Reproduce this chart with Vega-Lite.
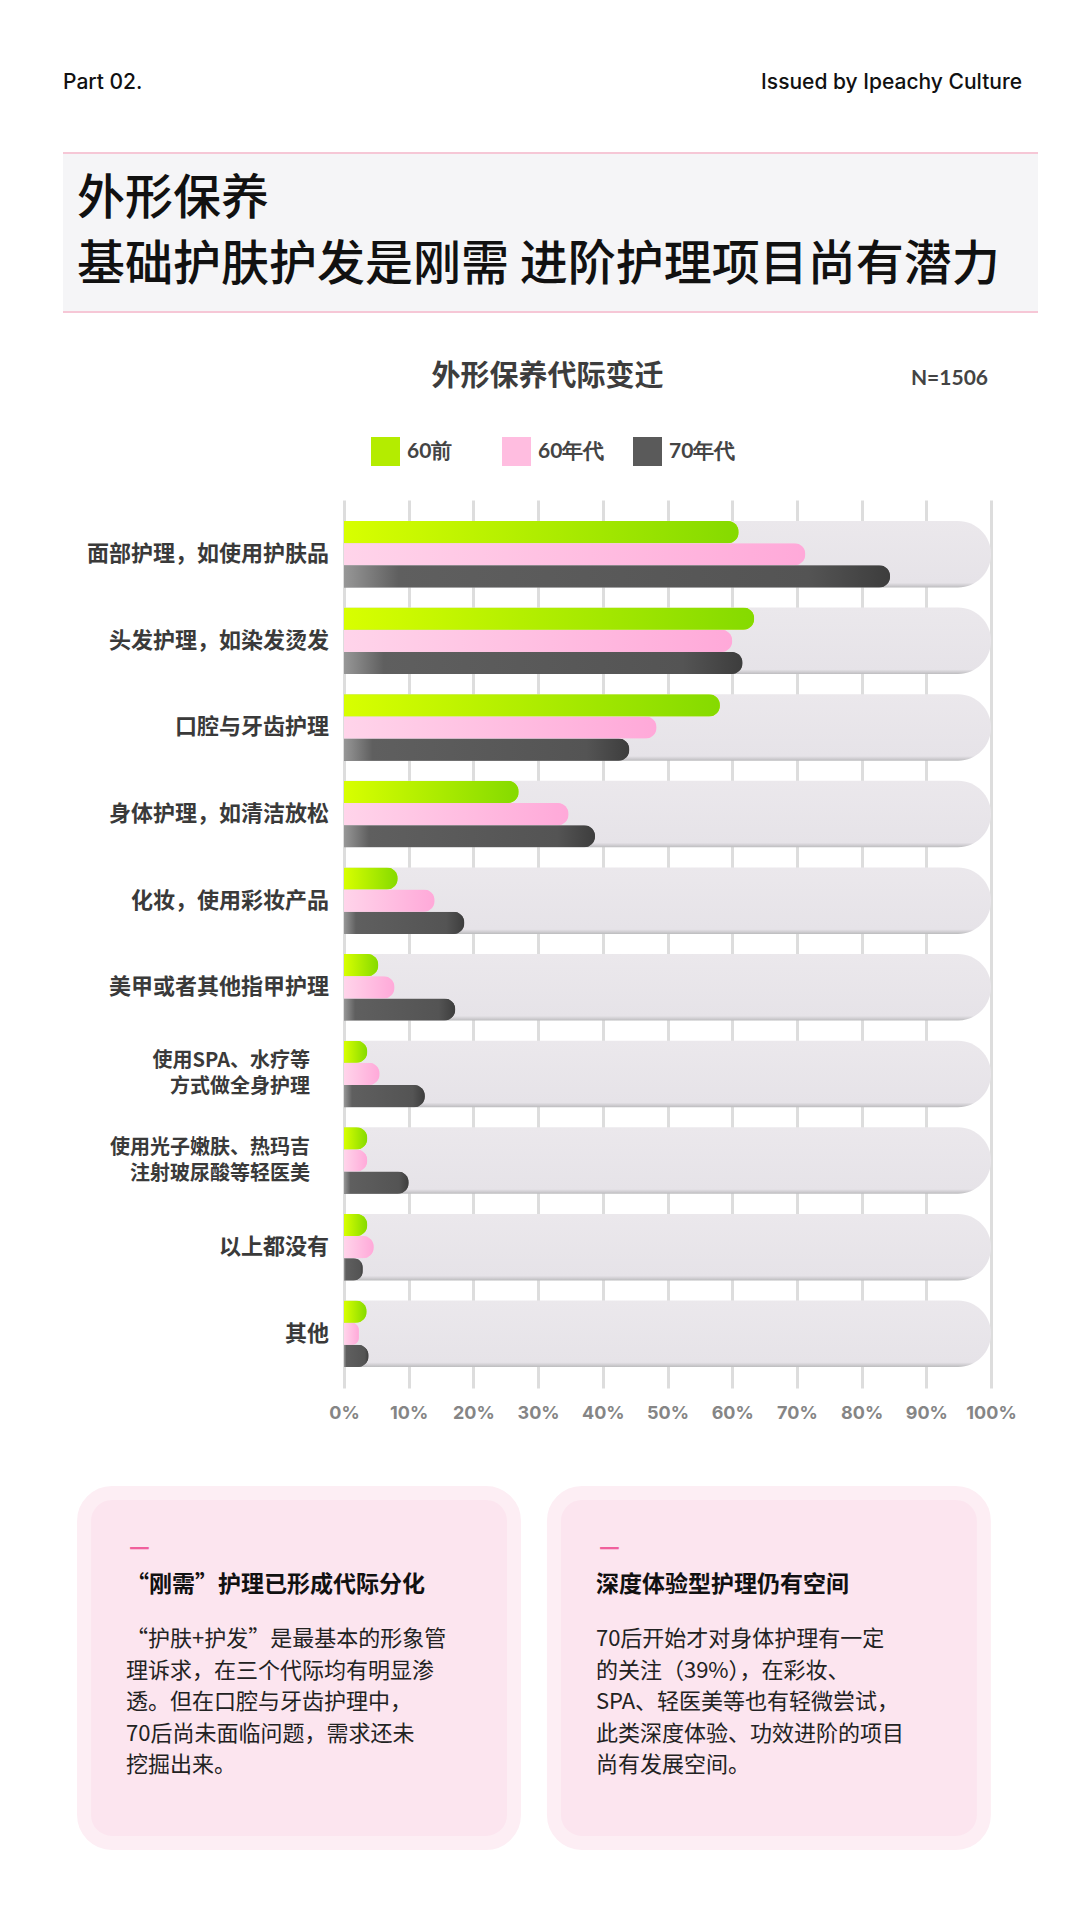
{
  "$schema": "https://vega.github.io/schema/vega-lite/v6.json",
  "background": "#ffffff",
  "padding": {"left": 62, "top": 0, "right": 43, "bottom": 0},
  "config": {
    "view": {"stroke": null},
    "font": "Noto Sans CJK SC"
  },
  "datasets": {
    "care": [
      {"item": "面部护理，如使用护肤品", "series": "60前", "value": 61.0},
      {"item": "面部护理，如使用护肤品", "series": "60年代", "value": 71.3},
      {"item": "面部护理，如使用护肤品", "series": "70年代", "value": 84.4},
      {"item": "头发护理，如染发烫发", "series": "60前", "value": 63.4},
      {"item": "头发护理，如染发烫发", "series": "60年代", "value": 60.0},
      {"item": "头发护理，如染发烫发", "series": "70年代", "value": 61.6},
      {"item": "口腔与牙齿护理", "series": "60前", "value": 58.1},
      {"item": "口腔与牙齿护理", "series": "60年代", "value": 48.3},
      {"item": "口腔与牙齿护理", "series": "70年代", "value": 44.1},
      {"item": "身体护理，如清洁放松", "series": "60前", "value": 27.0},
      {"item": "身体护理，如清洁放松", "series": "60年代", "value": 34.7},
      {"item": "身体护理，如清洁放松", "series": "70年代", "value": 38.8},
      {"item": "化妆，使用彩妆产品", "series": "60前", "value": 8.3},
      {"item": "化妆，使用彩妆产品", "series": "60年代", "value": 14.0},
      {"item": "化妆，使用彩妆产品", "series": "70年代", "value": 18.6},
      {"item": "美甲或者其他指甲护理", "series": "60前", "value": 5.3},
      {"item": "美甲或者其他指甲护理", "series": "60年代", "value": 7.8},
      {"item": "美甲或者其他指甲护理", "series": "70年代", "value": 17.2},
      {"item": "使用SPA、水疗等\n方式做全身护理", "series": "60前", "value": 3.6},
      {"item": "使用SPA、水疗等\n方式做全身护理", "series": "60年代", "value": 5.5},
      {"item": "使用SPA、水疗等\n方式做全身护理", "series": "70年代", "value": 12.5},
      {"item": "使用光子嫩肤、热玛吉\n注射玻尿酸等轻医美", "series": "60前", "value": 3.6},
      {"item": "使用光子嫩肤、热玛吉\n注射玻尿酸等轻医美", "series": "60年代", "value": 3.6},
      {"item": "使用光子嫩肤、热玛吉\n注射玻尿酸等轻医美", "series": "70年代", "value": 10.0},
      {"item": "以上都没有", "series": "60前", "value": 3.6},
      {"item": "以上都没有", "series": "60年代", "value": 4.6},
      {"item": "以上都没有", "series": "70年代", "value": 2.9},
      {"item": "其他", "series": "60前", "value": 3.5},
      {"item": "其他", "series": "60年代", "value": 2.3},
      {"item": "其他", "series": "70年代", "value": 3.8}
    ],
    "cards": [
      {
        "head": "“刚需”护理已形成代际分化",
        "body": "“护肤+护发”是最基本的形象管\n理诉求，在三个代际均有明显渗\n透。但在口腔与牙齿护理中，\n70后尚未面临问题，需求还未\n挖掘出来。"
      },
      {
        "head": "深度体验型护理仍有空间",
        "body": "70后开始才对身体护理有一定\n的关注（39%），在彩妆、\nSPA、轻医美等也有轻微尝试，\n此类深度体验、功效进阶的项目\n尚有发展空间。"
      }
    ]
  },
  "spacing": 0,
  "bounds": "flush",
  "vconcat": [
    {
      "width": 975,
      "height": 153,
      "data": {"values": [{"left": "Part 02.", "right": "Issued by Ipeachy Culture"}]},
      "layer": [
        {
          "mark": {"type": "text", "align": "left", "baseline": "middle", "dy": 6, "font": "Inter", "fontSize": 21, "fontWeight": 500, "color": "#111111"},
          "encoding": {"x": {"value": 0}, "text": {"field": "left"}}
        },
        {
          "mark": {"type": "text", "align": "right", "baseline": "middle", "dx": -16, "dy": 6, "font": "Inter", "fontSize": 21, "fontWeight": 500, "color": "#111111"},
          "encoding": {"x": {"value": "width"}, "text": {"field": "right"}}
        }
      ]
    },
    {
      "width": 975,
      "height": 159,
      "view": {"fill": "#f5f5f7", "stroke": null},
      "data": {"values": [{"title": "外形保养\n基础护肤护发是刚需 进阶护理项目尚有潜力"}]},
      "layer": [
        {
          "mark": {"type": "rule", "color": "#f6c7d6", "strokeWidth": 2},
          "encoding": {"y": {"value": 0}}
        },
        {
          "mark": {"type": "rule", "color": "#f6c7d6", "strokeWidth": 2},
          "encoding": {"y": {"value": "height"}}
        },
        {
          "mark": {"type": "text", "align": "left", "baseline": "middle", "dx": 14, "dy": -33, "fontSize": 48, "fontWeight": 500, "lineBreak": "\n", "lineHeight": 66, "color": "#111111"},
          "encoding": {"x": {"value": 0}, "text": {"field": "title"}}
        }
      ]
    },
    {
      "width": 975,
      "height": 188,
      "data": {"values": [{"title": "外形保养代际变迁", "n": "N=1506"}]},
      "layer": [
        {
          "mark": {"type": "text", "baseline": "middle", "dx": -3, "dy": -29, "fontSize": 29, "fontWeight": "bold", "color": "#3d3d3d"},
          "encoding": {"text": {"field": "title"}}
        },
        {
          "mark": {"type": "text", "align": "right", "baseline": "middle", "dx": -50, "dy": -27, "font": "Lato", "fontSize": 21, "fontWeight": "bold", "color": "#444444"},
          "encoding": {"x": {"value": "width"}, "text": {"field": "n"}}
        }
      ]
    },
    {
      "width": 975,
      "height": 888,
      "data": {"name": "care"},
      "encoding": {
        "y": {
          "field": "item",
          "type": "nominal",
          "sort": null,
          "scale": {
            "domain": [
              "面部护理，如使用护肤品",
              "头发护理，如染发烫发",
              "口腔与牙齿护理",
              "身体护理，如清洁放松",
              "化妆，使用彩妆产品",
              "美甲或者其他指甲护理",
              "使用SPA、水疗等\n方式做全身护理",
              "使用光子嫩肤、热玛吉\n注射玻尿酸等轻医美",
              "以上都没有",
              "其他"
            ],
            "paddingInner": 0.2324,
            "paddingOuter": 0.2424
          },
          "axis": null
        }
      },
      "layer": [
        {
          "transform": [{"filter": "datum.series === '60前'"}],
          "mark": {
            "type": "bar",
            "cornerRadiusTopRight": 33,
            "cornerRadiusBottomRight": 33,
            "color": {
              "gradient": "linear",
              "x1": 0, "y1": 0, "x2": 0, "y2": 1,
              "stops": [
                {"offset": 0, "color": "#ebe8ec"},
                {"offset": 0.93, "color": "#e6e3e8"},
                {"offset": 0.97, "color": "#cfcdd1"},
                {"offset": 1, "color": "#bcbcbe"}
              ]
            }
          },
          "encoding": {
            "x": {
              "datum": 0,
              "type": "quantitative",
              "title": null,
              "scale": {"domain": [0, 100], "range": [281, 928], "nice": false},
              "axis": {
                "orient": "bottom",
                "values": [0, 10, 20, 30, 40, 50, 60, 70, 80, 90, 100],
                "labelExpr": "datum.value + '%'",
                "domain": false,
                "ticks": false,
                "grid": true,
                "gridColor": "#dddddd",
                "gridWidth": 3,
                "labelFlush": false,
                "labelFont": "Inter",
                "labelFontSize": 18,
                "labelFontWeight": "bold",
                "labelColor": "#858585",
                "labelPadding": 16,
                "title": null
              }
            },
            "x2": {"datum": 100}
          }
        },
        {
          "mark": {"type": "bar", "cornerRadiusEnd": 11},
          "encoding": {
            "x": {"field": "value", "type": "quantitative", "title": null},
            "yOffset": {"field": "series", "scale": {"domain": ["60前", "60年代", "70年代"], "paddingInner": 0, "paddingOuter": 0}},
            "color": {
              "field": "series",
              "type": "nominal",
              "scale": {"domain": ["60前", "60年代", "70年代"], "range": ["#b4ec00", "#ffbde0", "#5a5a5a"]},
              "legend": {
                "orient": "none",
                "legendX": 308,
                "legendY": 437,
                "direction": "horizontal",
                "title": null,
                "symbolType": "square",
                "symbolSize": 841,
                "symbolStrokeWidth": 0,
                "symbolOpacity": 1,
                "labelFont": "Lato",
                "labelFontSize": 21,
                "labelFontWeight": "bold",
                "labelColor": "#444444",
                "labelOffset": 7,
                "columnPadding": 28,
                "gridAlign": "all"
              }
            }
          }
        },
        {
          "transform": [{"filter": "datum.series === '60前'"}],
          "mark": {
            "type": "bar",
            "cornerRadiusEnd": 11,
            "color": {
              "gradient": "linear",
              "x1": 0, "y1": 0, "x2": 1, "y2": 0,
              "stops": [
                {"offset": 0, "color": "#d8ff00"},
                {"offset": 1, "color": "#85da00"}
              ]
            }
          },
          "encoding": {
            "x": {"field": "value", "type": "quantitative", "title": null},
            "yOffset": {"field": "series"}
          }
        },
        {
          "transform": [{"filter": "datum.series === '60年代'"}],
          "mark": {
            "type": "bar",
            "cornerRadiusEnd": 11,
            "color": {
              "gradient": "linear",
              "x1": 0, "y1": 0, "x2": 1, "y2": 0,
              "stops": [
                {"offset": 0, "color": "#ffd4ea"},
                {"offset": 1, "color": "#ffa9d9"}
              ]
            }
          },
          "encoding": {
            "x": {"field": "value", "type": "quantitative", "title": null},
            "yOffset": {"field": "series"}
          }
        },
        {
          "transform": [{"filter": "datum.series === '70年代'"}],
          "mark": {
            "type": "bar",
            "cornerRadiusEnd": 11,
            "color": {
              "gradient": "linear",
              "x1": 0, "y1": 0, "x2": 1, "y2": 0,
              "stops": [
                {"offset": 0, "color": "#979797"},
                {"offset": 0.1, "color": "#5f5f5f"},
                {"offset": 0.85, "color": "#545454"},
                {"offset": 1, "color": "#3d3d3d"}
              ]
            }
          },
          "encoding": {
            "x": {"field": "value", "type": "quantitative", "title": null},
            "yOffset": {"field": "series"}
          }
        },
        {
          "transform": [
            {"filter": "datum.series === '60前'"},
            {"filter": {"not": {"field": "item", "oneOf": ["使用SPA、水疗等\n方式做全身护理", "使用光子嫩肤、热玛吉\n注射玻尿酸等轻医美"]}}}
          ],
          "mark": {"type": "text", "align": "right", "baseline": "middle", "dx": -15, "fontSize": 22, "fontWeight": "bold", "color": "#3a3a3a"},
          "encoding": {
            "x": {"datum": 0, "type": "quantitative"},
            "text": {"field": "item"}
          }
        },
        {
          "transform": [
            {"filter": "datum.series === '60前'"},
            {"filter": {"field": "item", "oneOf": ["使用SPA、水疗等\n方式做全身护理", "使用光子嫩肤、热玛吉\n注射玻尿酸等轻医美"]}}
          ],
          "mark": {"type": "text", "align": "right", "baseline": "middle", "dx": -34, "dy": -13, "fontSize": 20, "fontWeight": "bold", "color": "#3a3a3a", "lineBreak": "\n", "lineHeight": 26},
          "encoding": {
            "x": {"datum": 0, "type": "quantitative"},
            "text": {"field": "item"}
          }
        }
      ]
    },
    {
      "width": 975,
      "height": 532,
      "data": {"name": "cards"},
      "encoding": {
        "x": {
          "field": "head",
          "type": "nominal",
          "sort": null,
          "scale": {"paddingInner": 0.085, "paddingOuter": 0.08, "align": 0.28},
          "axis": null
        },
        "y": {
          "datum": "card",
          "type": "nominal",
          "scale": {"paddingInner": 0, "paddingOuter": 0.26, "align": 0.577},
          "axis": null
        }
      },
      "layer": [
        {
          "mark": {"type": "bar", "color": "#fce5ef", "cornerRadius": 28, "stroke": "#fdeef4", "strokeWidth": 14}
        },
        {
          "mark": {"type": "text", "text": "—", "align": "left", "baseline": "middle", "dx": 45, "dy": 55, "fontSize": 23, "fontWeight": "bold", "color": "#f0609c"},
          "encoding": {
            "x": {"field": "head", "type": "nominal", "bandPosition": 0},
            "y": {"datum": "card", "type": "nominal", "bandPosition": 0}
          }
        },
        {
          "mark": {"type": "text", "align": "left", "baseline": "middle", "dx": 42, "dy": 92, "fontSize": 23, "fontWeight": "bold", "color": "#111111"},
          "encoding": {
            "x": {"field": "head", "type": "nominal", "bandPosition": 0},
            "y": {"datum": "card", "type": "nominal", "bandPosition": 0},
            "text": {"field": "head"}
          }
        },
        {
          "mark": {"type": "text", "align": "left", "baseline": "middle", "dx": 42, "dy": 146, "fontSize": 22, "color": "#222222", "lineBreak": "\n", "lineHeight": 31.5},
          "encoding": {
            "x": {"field": "head", "type": "nominal", "bandPosition": 0},
            "y": {"datum": "card", "type": "nominal", "bandPosition": 0},
            "text": {"field": "body"}
          }
        }
      ]
    }
  ]
}
